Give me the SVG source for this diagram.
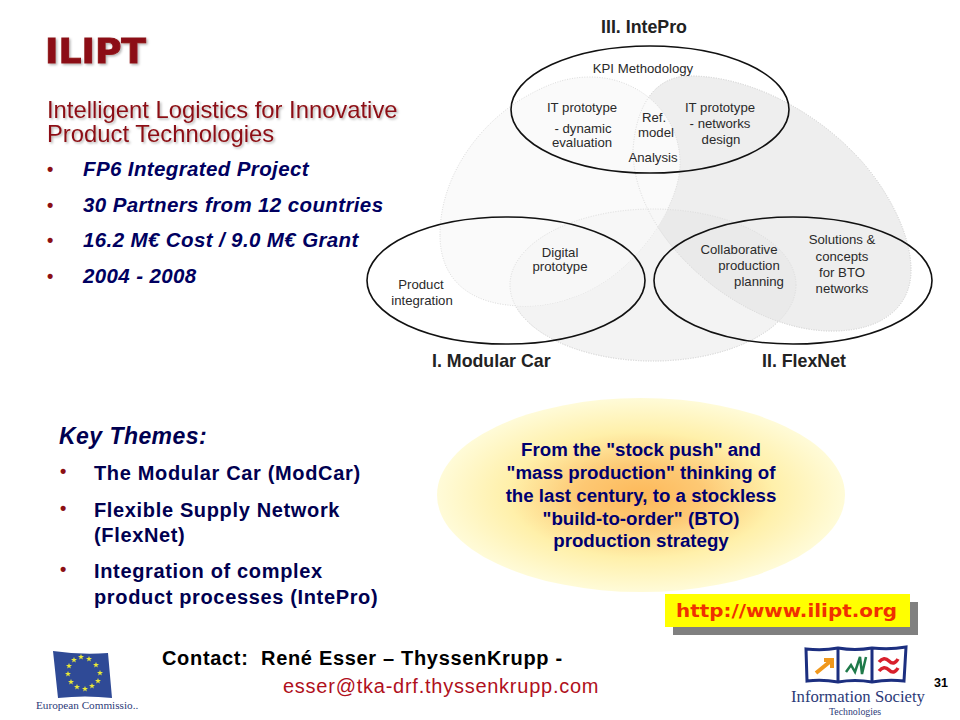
<svg xmlns="http://www.w3.org/2000/svg" xmlns:xlink="http://www.w3.org/1999/xlink" width="960" height="720" viewBox="0 0 960 720">
<style>
text{font-family:"Liberation Sans",Arial,sans-serif}
.lab{font-size:13.200px;fill:#2a2a2a;text-anchor:middle}
.head{font-size:17.800px;font-weight:bold;fill:#222}
.ring{fill:none;stroke:#111;stroke-width:1.6}
.blob{stroke:#dcdcdc;stroke-width:1;stroke-dasharray:1 1.5}
.sub{font-size:23.800px;fill:#8c0f14}
.b1{font-size:20.500px;font-weight:bold;font-style:italic;fill:#000060;letter-spacing:.38px}
.b2{font-size:20px;font-weight:bold;fill:#000050;letter-spacing:.65px}
.dot{font-size:18px;font-weight:bold;fill:#8c0f14}
.cen{font-size:18.700px;font-weight:bold;fill:#000070;text-anchor:middle}
.ser{font-family:"Liberation Serif",serif;fill:#2c3a78}
</style>
<defs>
<filter id="sh" x="-5%" y="-20%" width="110%" height="140%"><feDropShadow dx="1.500" dy="1.500" stdDeviation="1" flood-color="#000" flood-opacity=".3"/></filter>
<radialGradient id="glow" cx=".5" cy=".5" r=".5">
<stop offset="0" stop-color="#fdb95a"/><stop offset=".3" stop-color="#fdc873"/><stop offset=".65" stop-color="#fff0aa"/><stop offset="1" stop-color="#fffbd8"/>
</radialGradient>
<polygon id="star" points="0,-3 .8,-1 3,-1 1.200,.4 1.900,2.600 0,1.300 -1.900,2.600 -1.200,.4 -3,-1 -.8,-1" fill="#e8e838"/>
<path id="leafR" d="M633,150C636,105 655,76 690,76C760,76 840,125 880,185C900,215 911,245 911,270C911,305 885,330 835,331C790,332 740,310 700,275C660,240 633,195 633,150Z"/>
<path id="leafL" d="M440,235C440,175 480,125 520,100C545,85 565,77 590,77C640,77 681,115 680,165C679,205 640,265 590,290C565,302 545,306 525,306C470,306 440,280 440,235Z"/>
<clipPath id="clipBottom"><ellipse cx="653" cy="285" rx="143" ry="76"/></clipPath>
</defs>

<g id="title">
<text x="45" y="63" filter="url(#sh)" stroke="#8c0f14" stroke-width=".9" style="font-family:'DejaVu Sans',sans-serif;font-size:34px;font-weight:bold;fill:#8c0f14" textLength="101" lengthAdjust="spacingAndGlyphs">ILIPT</text>
<text class="sub" x="47" y="118" filter="url(#sh)">Intelligent Logistics for Innovative</text>
<text class="sub" x="47" y="142" filter="url(#sh)">Product Technologies</text>
</g>

<g id="facts">
<text class="dot" x="47" y="175">•</text><text class="b1" x="83" y="176">FP6 Integrated Project</text>
<text class="dot" x="47" y="211">•</text><text class="b1" x="83" y="212">30 Partners from 12 countries</text>
<text class="dot" x="47" y="246">•</text><text class="b1" x="83" y="247">16.2 M€ Cost / 9.0 M€ Grant</text>
<text class="dot" x="47" y="282">•</text><text class="b1" x="83" y="283">2004 - 2008</text>
</g>

<g id="venn-areas">
<ellipse class="blob" fill="#f3f3f3" cx="653" cy="285" rx="143" ry="76"/>
<use href="#leafR" xlink:href="#leafR" class="blob" fill="#eeeeee"/>
<use href="#leafR" xlink:href="#leafR" fill="#eaeaea" clip-path="url(#clipBottom)"/>
<use href="#leafL" xlink:href="#leafL" class="blob" fill="#fafafa"/>
<use href="#leafL" xlink:href="#leafL" fill="#f7f7f7" clip-path="url(#clipBottom)"/>
<use href="#leafR" xlink:href="#leafR" class="blob" fill="none"/>
<ellipse class="blob" fill="none" cx="653" cy="285" rx="143" ry="76"/>
</g>

<g id="node-intepro">
<ellipse class="ring" cx="650" cy="109.500" rx="139" ry="63.500"/>
<text class="head" x="644" y="33" text-anchor="middle">III. IntePro</text>
<text class="lab" x="643" y="73">KPI Methodology</text>
<text class="lab" x="582" y="112">IT prototype</text>
<text class="lab" x="583" y="133">- dynamic</text>
<text class="lab" x="582" y="147">evaluation</text>
<text class="lab" x="654" y="122">Ref.</text>
<text class="lab" x="656" y="137">model</text>
<text class="lab" x="653" y="162">Analysis</text>
<text class="lab" x="720" y="112">IT prototype</text>
<text class="lab" x="720" y="128">- networks</text>
<text class="lab" x="721" y="144">design</text>
</g>

<g id="node-modular">
<ellipse class="ring" cx="506" cy="280.500" rx="139" ry="63.500"/>
<text class="head" x="432" y="367">I. Modular Car</text>
<text class="lab" x="560" y="257">Digital</text>
<text class="lab" x="560" y="271">prototype</text>
<text class="lab" x="421" y="289">Product</text>
<text class="lab" x="422" y="305">integration</text>
</g>

<g id="node-flexnet">
<ellipse class="ring" cx="793" cy="280.500" rx="139" ry="63.500"/>
<text class="head" x="762" y="367">II. FlexNet</text>
<text class="lab" x="739" y="254">Collaborative</text>
<text class="lab" x="749" y="270">production</text>
<text class="lab" x="759" y="286">planning</text>
<text class="lab" x="842" y="244">Solutions &amp;</text>
<text class="lab" x="842" y="261">concepts</text>
<text class="lab" x="842" y="277">for BTO</text>
<text class="lab" x="842" y="293">networks</text>
</g>

<g id="themes">
<text x="59" y="444" style="font-size:23px;font-weight:bold;font-style:italic;fill:#000050;letter-spacing:.45px">Key Themes:</text>
<text class="dot" x="60" y="477">•</text><text class="b2" x="94" y="480">The Modular Car (ModCar)</text>
<text class="dot" x="60" y="514">•</text><text class="b2" x="94" y="517">Flexible Supply Network</text>
<text class="b2" x="94" y="542">(FlexNet)</text>
<text class="dot" x="60" y="575">•</text><text class="b2" x="94" y="578">Integration of complex</text>
<text class="b2" x="94" y="604">product processes (IntePro)</text>
</g>

<g id="node-strategy">
<ellipse cx="641" cy="495" rx="204" ry="97" fill="url(#glow)"/>
<text class="cen" x="641" y="456">From the "stock push" and</text>
<text class="cen" x="641" y="479">"mass production" thinking of</text>
<text class="cen" x="641" y="502">the last century, to a stockless</text>
<text class="cen" x="641" y="525">"build-to-order" (BTO)</text>
<text class="cen" x="641" y="547">production strategy</text>
</g>

<g id="node-link">
<rect x="673" y="602" width="245" height="33" fill="#808080"/>
<rect x="665" y="594" width="245" height="33" fill="#ffff00"/>
<text x="676" y="617" style="font-family:'DejaVu Sans',sans-serif;font-size:17.500px;font-weight:bold;fill:#f03000" textLength="221" lengthAdjust="spacingAndGlyphs">http://www.ilipt.org</text>
</g>

<g id="contact">
<text x="162" y="665" xml:space="preserve" style="font-size:20px;font-weight:bold;fill:#000;letter-spacing:.68px">Contact:  René Esser – ThyssenKrupp -</text>
<text x="283" y="693" style="font-size:20px;fill:#b0101c;letter-spacing:.75px">esser@tka-drf.thyssenkrupp.com</text>
<text x="934" y="687" style="font-size:12.500px;font-weight:bold;fill:#000">31</text>
</g>

<g id="eu-logo">
<path d="M53,651Q80,655 108,653L112,698Q85,695 58,698Z" fill="#2f4a96"/>
<use xlink:href="#star" href="#star" x="81" y="657"/><use xlink:href="#star" href="#star" x="89" y="659"/>
<use xlink:href="#star" href="#star" x="96" y="665"/><use xlink:href="#star" href="#star" x="100" y="673"/>
<use xlink:href="#star" href="#star" x="98" y="681"/><use xlink:href="#star" href="#star" x="92" y="686"/>
<use xlink:href="#star" href="#star" x="85" y="689"/><use xlink:href="#star" href="#star" x="77" y="687"/>
<use xlink:href="#star" href="#star" x="71" y="682"/><use xlink:href="#star" href="#star" x="68" y="674"/>
<use xlink:href="#star" href="#star" x="69" y="666"/><use xlink:href="#star" href="#star" x="74" y="660"/>
<text class="ser" x="36" y="709" style="font-size:11.200px">European Commissio..</text>
</g>

<g id="ist-logo">
<path d="M806,649Q823,651 838,648Q855,651 872,648Q890,650 906,647L904,681Q888,679 872,682Q855,679 838,682Q822,679 807,681Z" fill="#fff" stroke="#1c2f80" stroke-width="3"/>
<path d="M838,648V682M872,648V682" stroke="#1c2f80" stroke-width="3" fill="none"/>
<path d="M816,673L832,660M824,660H832V668" fill="none" stroke="#f0981c" stroke-width="4"/>
<path d="M846,672L851,665L855,672L860,657L862,674L866,657" fill="none" stroke="#1f7a4a" stroke-width="2.500"/>
<path d="M879,662Q884,656 889,661T898,659M879,671Q884,665 889,670T898,668" fill="none" stroke="#d8202c" stroke-width="3.500"/>
<text class="ser" x="791" y="702" style="font-size:16.700px">Information Society</text>
<text class="ser" x="829" y="715" style="font-size:9.800px">Technologies</text>
</g>
</svg>
